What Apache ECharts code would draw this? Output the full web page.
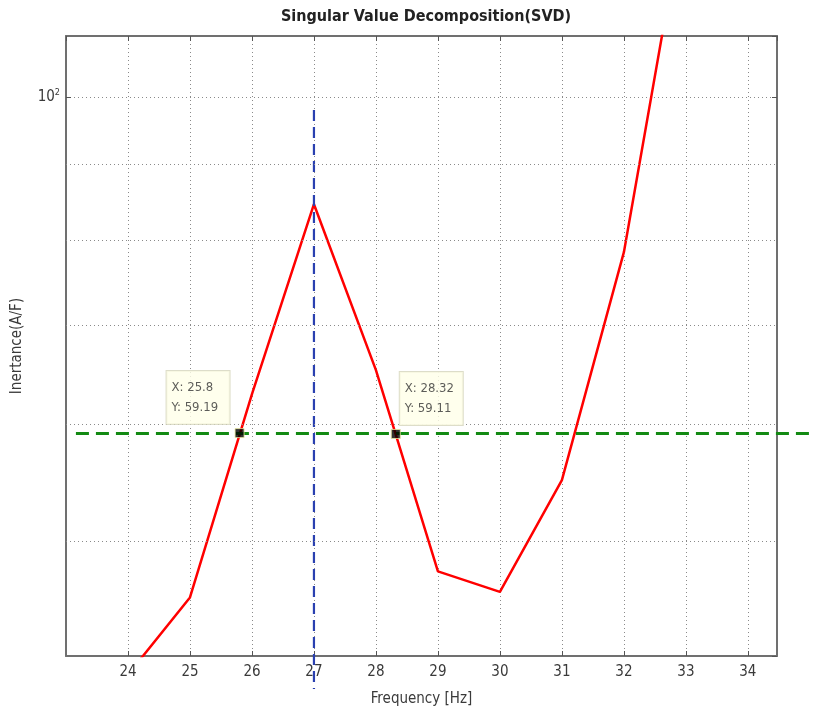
<!DOCTYPE html>
<html>
<head>
<meta charset="utf-8">
<script src="https://cdn.jsdelivr.net/npm/echarts@6/dist/echarts.min.js"></script>
<style>
html,body{margin:0;padding:0;background:#fff;}
#chart{width:813px;height:718px;}
</style>
</head>
<body>
<div id="chart"></div>
<script>
// ---- data ----
const freq = [24, 25, 26, 27, 28, 29, 30, 31, 32, 33];
const inertance = [40.6, 45.8, 62.9, 84.6, 65.3, 47.7, 46.2, 55.0, 78.5, 136];
const cursorX = [25.8, 28.32];
const cursorY = [59.19, 59.11];
const thresholdY = 59.15;
const thresholdX = [23.16, 35.05];
const peakX = 27;
const peakLineY = [98, 39.7];
const minorGridY = [50, 60, 70, 80, 90];

const FONT = "'Liberation Sans Narrow', 'DejaVu Sans Condensed', 'Liberation Sans', Arial, sans-serif";
const FRAME = '#707070';
const GRID = '#8a8a8a';
const TXT = '#3a3a3a';

const chart = echarts.init(document.getElementById('chart'));

const xBase = {
  type: 'value', min: 23, max: 34.47, interval: 1, gridIndex: 0,
  axisLine: {show: true, onZero: false, lineStyle: {color: FRAME, width: 2}},
  axisTick: {show: true, inside: true, length: 5, lineStyle: {color: '#555', width: 1}},
};

const option = {
  animation: false,
  backgroundColor: '#fff',
  title: {
    text: 'Singular Value Decomposition(SVD)',
    left: 421, top: 4, textAlign: 'center',
    textStyle: {fontFamily: FONT, fontSize: 16, fontWeight: 'bold', color: '#222'}
  },
  grid: [
    {left: 66, right: 36, top: 36, bottom: 62, containLabel: false},
    // overlay grid sharing the same scale per pixel, reaching to the right page edge
    {left: 66, right: 0, top: 36, bottom: 62, containLabel: false}
  ],
  xAxis: [
    Object.assign({}, xBase, {
      position: 'bottom',
      name: 'Frequency [Hz]', nameLocation: 'middle', nameGap: 36,
      nameTextStyle: {fontFamily: FONT, fontSize: 15, color: TXT},
      axisLabel: {
        fontFamily: FONT, fontSize: 15, color: TXT, margin: 9,
        showMinLabel: false, showMaxLabel: false,
        formatter: v => (Math.abs(v - Math.round(v)) < 1e-6 && v > 23.5 && v < 34.2) ? String(v) : ''
      },
      splitLine: {show: true, lineStyle: {color: GRID, type: [1, 3], width: 1}}
    }),
    Object.assign({}, xBase, {
      position: 'top',
      axisLabel: {show: false},
      splitLine: {show: false}
    }),
    {
      type: 'value', gridIndex: 1, min: 23, max: 23 + 747 / 62, show: false
    }
  ],
  yAxis: [
    {
      type: 'log', logBase: 10, min: 41.8, max: 110, gridIndex: 0,
      name: 'Inertance(A/F)', nameLocation: 'middle', nameGap: 41,
      nameTextStyle: {fontFamily: FONT, fontSize: 15, color: TXT},
      axisLine: {show: true, onZero: false, lineStyle: {color: FRAME, width: 2}},
      axisTick: {show: true, inside: true, length: 5, lineStyle: {color: '#555'}},
      axisLabel: {
        fontFamily: FONT, fontSize: 15, color: TXT, margin: 6,
        showMinLabel: false, showMaxLabel: false,
        formatter: v => Math.abs(v - 100) < 0.5 ? '10{s|2}' : '',
        rich: {s: {fontFamily: FONT, fontSize: 9, color: TXT, verticalAlign: 'top', padding: [0, 0, 8, 0]}}
      },
      splitLine: {show: true, lineStyle: {color: GRID, type: [1, 3], width: 1}}
    },
    {
      type: 'log', logBase: 10, min: 41.8, max: 110, position: 'right', gridIndex: 0,
      axisLine: {show: true, onZero: false, lineStyle: {color: FRAME, width: 2}},
      axisTick: {show: true, inside: true, length: 5, lineStyle: {color: '#555'}},
      axisLabel: {show: false},
      splitLine: {show: false}
    },
    {
      type: 'log', logBase: 10, min: 41.8, max: 110, gridIndex: 1, show: false
    }
  ],
  series: [
    {
      name: 'grid', type: 'line', data: [], silent: true,
      markLine: {
        silent: true, symbol: ['none', 'none'], label: {show: false},
        lineStyle: {color: GRID, type: [1, 3], width: 1},
        data: minorGridY.map(v => ({yAxis: v}))
      }
    },
    {
      name: 'SVD', type: 'line', z: 3,
      data: freq.map((f, i) => [f, inertance[i]]),
      showSymbol: false, symbol: 'none',
      lineStyle: {color: '#ff0000', width: 2.5}
    },
    {
      name: 'peak', type: 'line', z: 4, clip: false,
      data: peakLineY.map(v => [peakX, v]),
      showSymbol: false, symbol: 'none',
      lineStyle: {color: '#2a40b0', width: 2.2, type: [11, 6]}
    },
    {
      name: 'threshold', type: 'line', z: 4, clip: false,
      xAxisIndex: 2, yAxisIndex: 2,
      data: thresholdX.map(x => [x, thresholdY]),
      showSymbol: false, symbol: 'none',
      lineStyle: {color: '#138a13', width: 3, type: [13, 7]}
    },
    {
      name: 'cursor', type: 'scatter', z: 6, clip: false,
      symbol: 'rect', symbolSize: 9,
      itemStyle: {color: '#000', borderColor: '#e8e8a0', borderWidth: 1},
      data: cursorX.map((x, i) => ({
        value: [x, cursorY[i]],
        label: {position: i === 0 ? [-68, -57] : [9, -57]}
      })),
      label: {
        show: true, align: 'left', verticalAlign: 'top',
        formatter: p => 'X: ' + p.value[0] + '\nY: ' + p.value[1],
        fontFamily: FONT, fontSize: 13, color: '#333', lineHeight: 20,
        backgroundColor: '#ffffe8', borderColor: '#d4d4bc', borderWidth: 1,
        padding: [7, 6, 6, 5], width: 52
      }
    }
  ]
};
chart.setOption(option);
</script>
</body>
</html>
